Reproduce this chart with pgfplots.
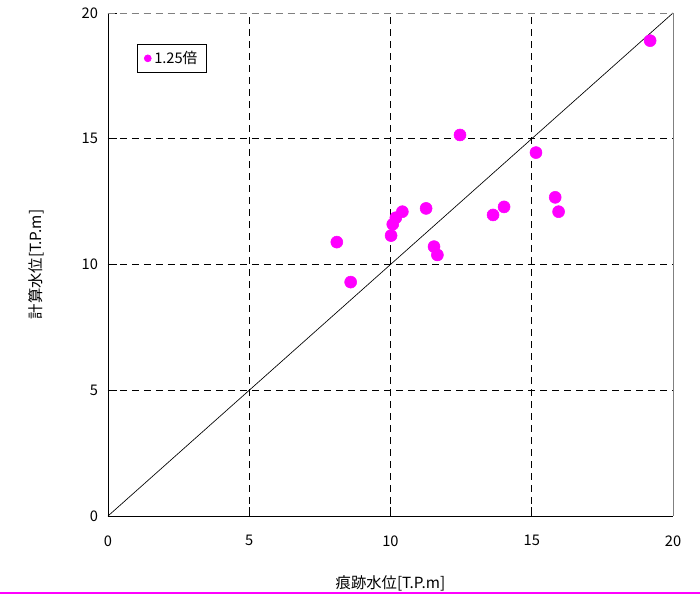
\documentclass[border=0pt]{standalone}
\usepackage{fontspec}
\setmainfont{Noto Sans CJK JP}
\usepackage{pgfplots}
\pgfplotsset{compat=1.18}
\definecolor{mag}{HTML}{FF00FF}
\begin{document}
\begin{tikzpicture}[x=1pt,y=1pt]
\useasboundingbox (-81,-60) rectangle (444,387);
\begin{axis}[
  at={(0,0)}, anchor=south west,
  scale only axis, width=423.75pt, height=377.25pt,
  xmin=0, xmax=20, ymin=0, ymax=20,
  xtick={0,5,10,15,20}, ytick={0,5,10,15,20},
  axis x line*=bottom, axis y line*=left,
  axis line style={black, line width=0.6pt},
  tick align=inside, major tick length=7pt,
  tick style={black, line width=0.5pt},
  grid=major,
  grid style={black, dashed, dash pattern=on 5pt off 4pt, line width=0.5pt},
  /pgf/number format/assume math mode=true,
  ticklabel style={font=\fontsize{11}{12}\selectfont},
  xticklabel style={yshift=-11pt},
  yticklabel style={xshift=-4pt},
  xlabel={痕跡水位[T.P.m]},
  ylabel={計算水位[T.P.m]},
  label style={font=\fontsize{11.5}{13}\selectfont},
  xlabel style={at={(axis description cs:0.5,0)}, anchor=base, yshift=-54pt},
  ylabel style={at={(axis description cs:0,0.5)}, anchor=base, yshift=50pt},
  legend style={at={(0.0513,0.938)}, anchor=north west, draw=black, line width=0.5pt,
    font=\fontsize{11}{12}\selectfont, inner xsep=5pt, inner ysep=3pt,
    /tikz/every even column/.append style={column sep=2pt}},
  legend cell align=left,
  clip=false,
]
\addplot[only marks, mark=*, mark size=4.5pt, mark options={draw=mag, fill=mag},
  legend image code/.code={\fill[mag] (0.3cm,0) circle (2.6pt);}] coordinates {
(12.46,15.15) (15.15,14.45) (15.83,12.67) (15.95,12.10) (14.02,12.29)
(13.63,11.97) (11.26,12.23) (10.42,12.10) (10.19,11.86) (10.08,11.60)
(10.02,11.15) (8.10,10.89) (11.54,10.71) (11.66,10.38) (8.59,9.30)
(19.19,18.90)
};
\addlegendentry{1.25倍}
\addplot[black, line width=0.5pt, forget plot] coordinates {(0,0) (20,20)};
\draw[gray, line width=0.6pt] (rel axis cs:1,0) -- (rel axis cs:1,1);
\draw[gray, dashed, dash pattern=on 5pt off 4pt, line width=0.6pt] (rel axis cs:0,1) -- (rel axis cs:1,1);
\end{axis}
\draw[mag, line width=1.5pt] (-81,-57.6) -- (444,-57.6);
\end{tikzpicture}
\end{document}
